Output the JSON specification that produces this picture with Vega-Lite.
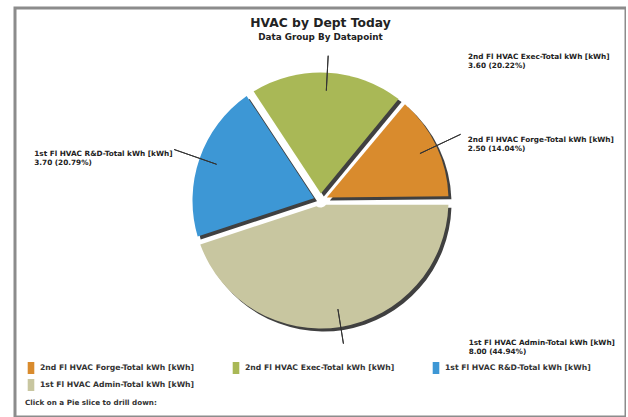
{
  "$schema": "https://vega.github.io/schema/vega-lite/v6.json",
  "width": 611,
  "height": 409,
  "autosize": {"type": "none"},
  "padding": {"left": 15, "top": 8, "right": 0, "bottom": 0},
  "background": "white",
  "view": {"stroke": "#8c8c8c", "strokeWidth": 3},
  "title": {
    "text": "HVAC by Dept Today",
    "subtitle": "Data Group By Datapoint",
    "anchor": "middle",
    "frame": "group",
    "offset": -34,
    "font": "DejaVu Sans",
    "fontSize": 12.3,
    "fontWeight": "bold",
    "color": "#222222",
    "subtitleFont": "DejaVu Sans",
    "subtitleFontSize": 8.8,
    "subtitleFontWeight": "bold",
    "subtitleColor": "#222222",
    "subtitlePadding": 4
  },
  "data": {
    "values": [
      {"name": "2nd Fl HVAC Forge-Total kWh [kWh]", "value": 2.5, "order": 1, "label": "2nd Fl HVAC Forge-Total kWh [kWh]\n2.50 (14.04%)"},
      {"name": "2nd Fl HVAC Exec-Total kWh [kWh]", "value": 3.6, "order": 2, "label": "2nd Fl HVAC Exec-Total kWh [kWh]\n3.60 (20.22%)"},
      {"name": "1st Fl HVAC R&D-Total kWh [kWh]", "value": 3.7, "order": 3, "label": "1st Fl HVAC R&D-Total kWh [kWh]\n3.70 (20.79%)"},
      {"name": "1st Fl HVAC Admin-Total kWh [kWh]", "value": 8.0, "order": 4, "label": "1st Fl HVAC Admin-Total kWh [kWh]\n8.00 (44.94%)"}
    ]
  },
  "encoding": {
    "theta": {"field": "value", "type": "quantitative", "stack": true, "scale": {"range": [1.5707963, -4.712389]}},
    "order": {"field": "order", "type": "quantitative"},
    "detail": {"field": "name", "type": "nominal"}
  },
  "layer": [
    {
      "mark": {"type": "arc", "radius": 128, "radius2": 7, "padAngle": 0.065, "color": "#000000", "opacity": 0.75, "xOffset": 3, "yOffset": -9}
    },
    {
      "mark": {"type": "arc", "radius": 128, "radius2": 7, "padAngle": 0.065, "yOffset": -12},
      "encoding": {
        "color": {
          "field": "name",
          "type": "nominal",
          "scale": {
            "domain": ["2nd Fl HVAC Forge-Total kWh [kWh]", "2nd Fl HVAC Exec-Total kWh [kWh]", "1st Fl HVAC R&D-Total kWh [kWh]", "1st Fl HVAC Admin-Total kWh [kWh]"],
            "range": ["#D98B2D", "#A9B856", "#3D97D5", "#C8C6A0"]
          },
          "legend": {
            "values": ["2nd Fl HVAC Forge-Total kWh [kWh]", "2nd Fl HVAC Exec-Total kWh [kWh]", "1st Fl HVAC R&D-Total kWh [kWh]", "1st Fl HVAC Admin-Total kWh [kWh]"],
            "title": "Click on a Pie slice to drill down:",
            "titleOrient": "bottom",
            "titleAnchor": "start",
            "titleFont": "DejaVu Sans",
            "titleFontSize": 7.2,
            "titleFontWeight": "bold",
            "titleColor": "#333333",
            "titlePadding": 8,
            "orient": "bottom-left",
            "direction": "horizontal",
            "offset": 10,
            "padding": 0,
            "columns": 3,
            "columnPadding": 35,
            "rowPadding": 5,
            "symbolType": "M-0.55,-1H0.55V1H-0.55Z",
            "symbolSize": 144,
            "symbolStrokeWidth": 0,
            "labelOffset": 3,
            "labelFont": "DejaVu Sans",
            "labelFontSize": 7.7,
            "labelFontWeight": "bold",
            "labelColor": "#333333",
            "labelLimit": 300
          }
        }
      }
    },
    {
      "mark": {"type": "arc", "radius": 155, "radius2": 110, "padAngle": 3, "filled": false, "stroke": "#333333", "strokeWidth": 1, "yOffset": -12},
      "encoding": {"strokeOpacity": {"condition": {"test": "datum.order == 1 || datum.order == 3", "value": 1}, "value": 0}}
    },
    {
      "mark": {"type": "arc", "radius": 145, "radius2": 110, "padAngle": 3, "filled": false, "stroke": "#333333", "strokeWidth": 1, "yOffset": -12},
      "encoding": {"strokeOpacity": {"condition": {"test": "datum.order == 2 || datum.order == 4", "value": 1}, "value": 0}}
    },
    {
      "mark": {"type": "text", "radius": 160, "thetaOffset": 0.038, "yOffset": -10, "align": "left", "baseline": "middle", "font": "DejaVu Sans", "fontSize": 7.3, "fontWeight": "bold", "lineBreak": "\n", "lineHeight": 9, "color": "#222222"},
      "encoding": {"text": {"condition": {"test": "datum.order == 1", "field": "label"}, "value": ""}}
    },
    {
      "mark": {"type": "text", "radius": 157, "thetaOffset": -0.02, "yOffset": -10, "dx": -137, "align": "left", "baseline": "middle", "font": "DejaVu Sans", "fontSize": 7.3, "fontWeight": "bold", "lineBreak": "\n", "lineHeight": 9, "color": "#222222"},
      "encoding": {"text": {"condition": {"test": "datum.order == 3", "field": "label"}, "value": ""}}
    },
    {
      "mark": {"type": "text", "radius": 207, "thetaOffset": 0.74, "yOffset": -10, "align": "left", "baseline": "middle", "font": "DejaVu Sans", "fontSize": 7.3, "fontWeight": "bold", "lineBreak": "\n", "lineHeight": 9, "color": "#222222"},
      "encoding": {"text": {"condition": {"test": "datum.order == 2", "field": "label"}, "value": ""}}
    },
    {
      "mark": {"type": "text", "radius": 204, "thetaOffset": -0.654, "yOffset": -10, "align": "left", "baseline": "middle", "font": "DejaVu Sans", "fontSize": 7.3, "fontWeight": "bold", "lineBreak": "\n", "lineHeight": 9, "color": "#222222"},
      "encoding": {"text": {"condition": {"test": "datum.order == 4", "field": "label"}, "value": ""}}
    }
  ]
}
